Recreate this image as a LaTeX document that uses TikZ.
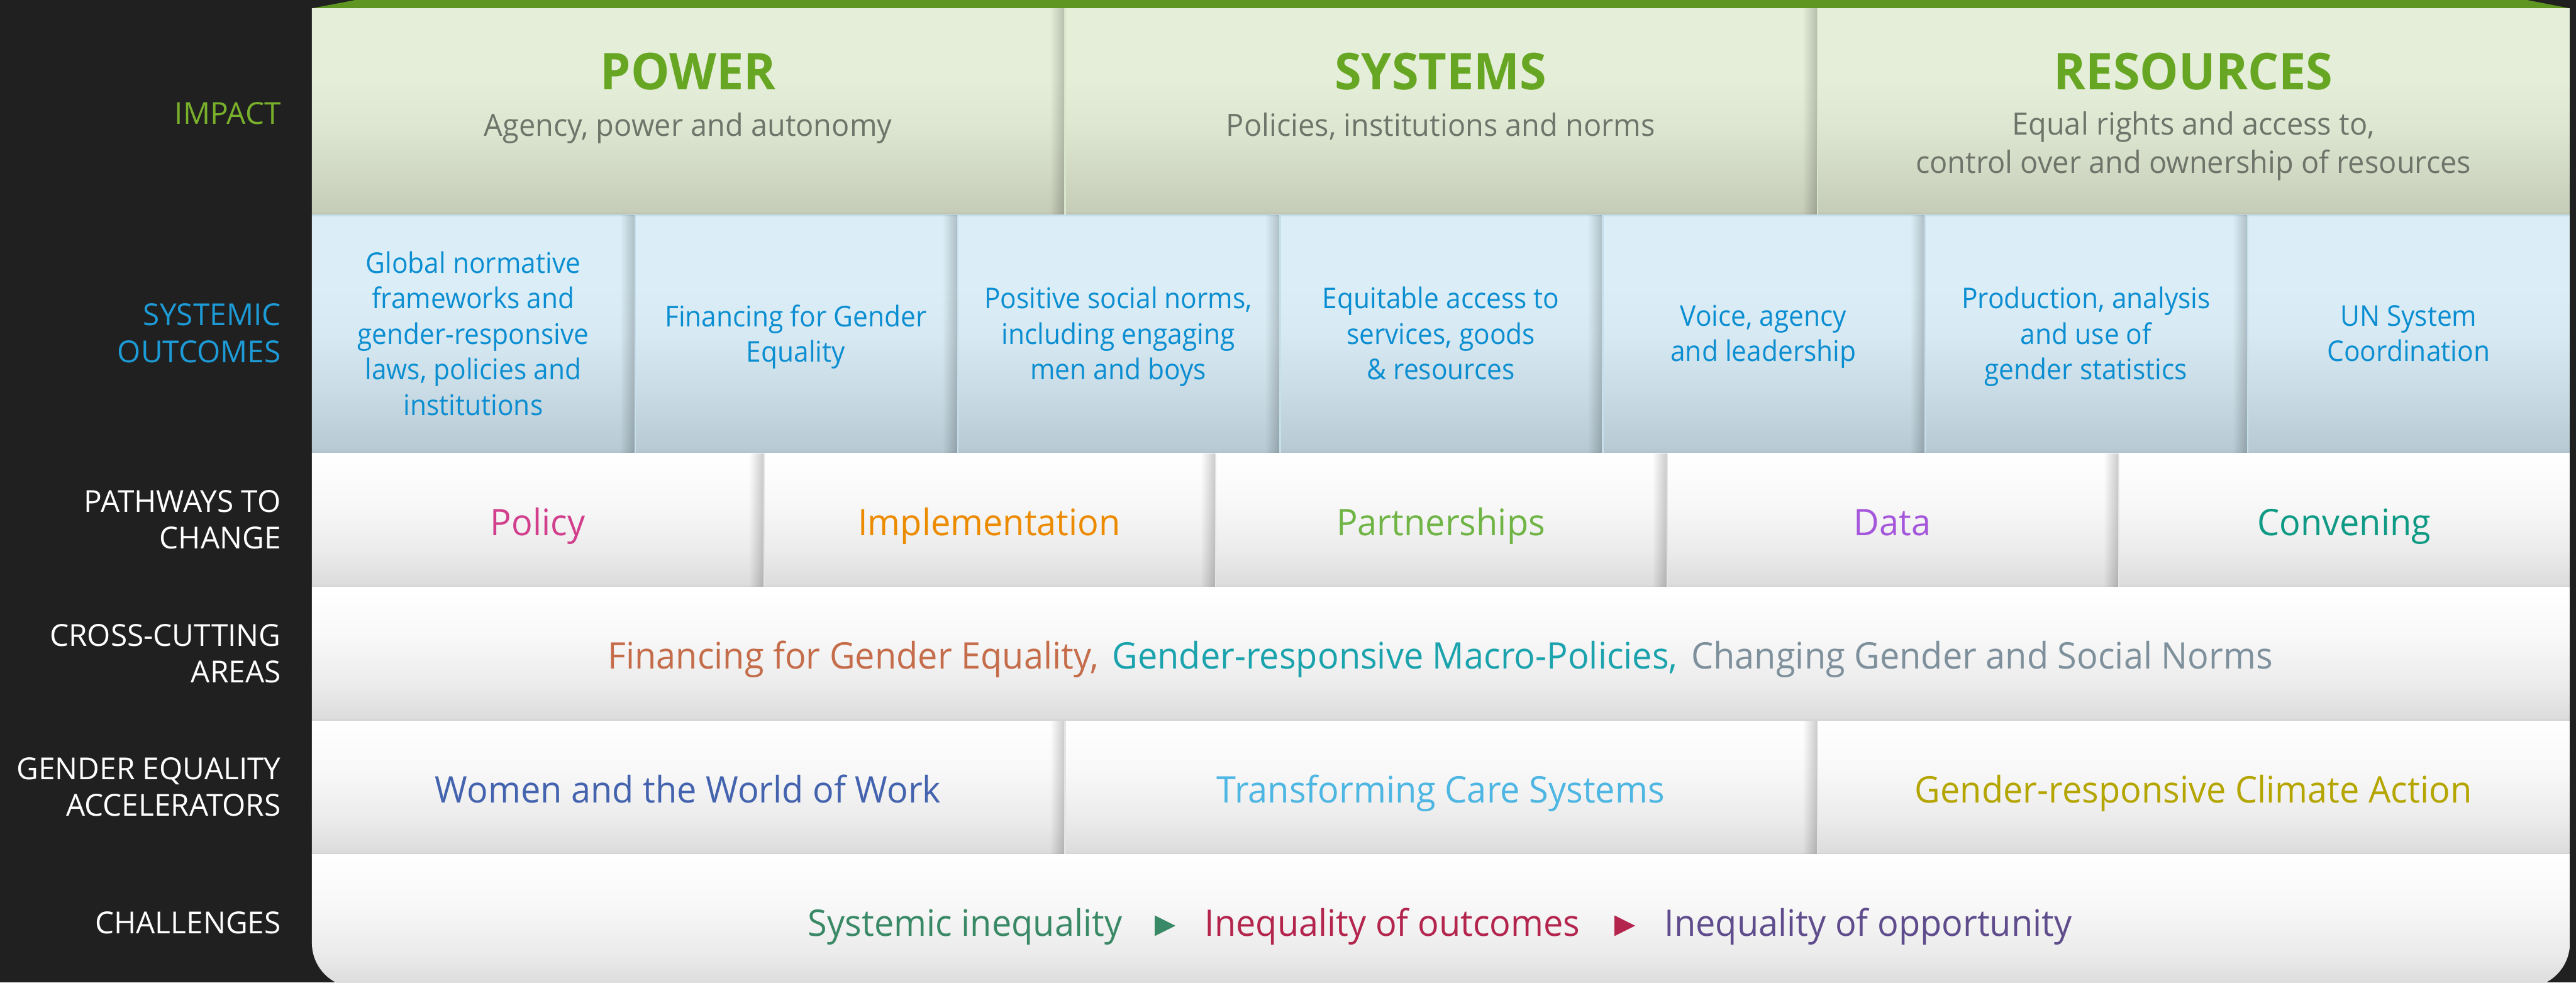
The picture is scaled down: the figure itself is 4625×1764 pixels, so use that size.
\documentclass[tikz,border=0pt]{standalone}
\usepackage{fontspec}
\setmainfont{Open Sans}[FakeStretch=0.96]
\newfontfamily\labelfont{Open Sans}[FakeStretch=0.99]
\newfontfamily\outcomefont{Open Sans}[FakeStretch=0.935]
\usetikzlibrary{fadings}

% palette
\definecolor{bgdark}{HTML}{202020}
\definecolor{topbar}{HTML}{5F9621}
\definecolor{impgreen}{HTML}{67A622}
\definecolor{implabel}{HTML}{79B02B}
\definecolor{subgrey}{HTML}{6E7469}
\definecolor{sysblue}{HTML}{0B8ED1}
\definecolor{syslabel}{HTML}{1D9BD7}
\definecolor{cpolicy}{HTML}{D23F8D}
\definecolor{cimpl}{HTML}{EC8B00}
\definecolor{cpart}{HTML}{6FB445}
\definecolor{cdata}{HTML}{A557DB}
\definecolor{cconv}{HTML}{0E9A84}
\definecolor{cfin}{HTML}{C56C4A}
\definecolor{cmacro}{HTML}{1BA3AD}
\definecolor{cnorms}{HTML}{7E909C}
\definecolor{cwork}{HTML}{4463AE}
\definecolor{ccare}{HTML}{4DB6E2}
\definecolor{cclim}{HTML}{B5A500}
\definecolor{chgreen}{HTML}{3A8966}
\definecolor{chred}{HTML}{B4254E}
\definecolor{chpurple}{HTML}{5F4C8C}

% row gradients
\definecolor{imA}{HTML}{B8BDAA}\definecolor{imB}{HTML}{C5CCB7}
\definecolor{imC}{HTML}{D2DAC5}\definecolor{imD}{HTML}{DDE6D1}
\definecolor{imE}{HTML}{E4EED8}
\definecolor{syA}{HTML}{AFC2CC}\definecolor{syB}{HTML}{B8CBD5}
\definecolor{syC}{HTML}{C9DBE4}\definecolor{syD}{HTML}{D7E9F2}
\definecolor{syE}{HTML}{DBEEF7}
\definecolor{whA}{HTML}{D0D0D0}\definecolor{whB}{HTML}{DCDCDC}
\definecolor{whC}{HTML}{EBEBEB}\definecolor{whD}{HTML}{F8F8F8}
\definecolor{whE}{HTML}{FFFFFF}
\definecolor{sysline}{HTML}{C6DFEB}
\definecolor{impline}{HTML}{D8E4CC}
\definecolor{whline}{HTML}{E4E4E4}

\pgfdeclareverticalshading{impactsh}{100bp}{color(0bp)=(imA); color(25bp)=(imA);
  color(25.8bp)=(imB); color(36bp)=(imC); color(46bp)=(imD); color(58bp)=(imE); color(100bp)=(imE)}
\pgfdeclareverticalshading{systemsh}{100bp}{color(0bp)=(syA); color(25bp)=(syA);
  color(26bp)=(syB); color(38bp)=(syC); color(50bp)=(syD); color(60bp)=(syE); color(100bp)=(syE)}
\pgfdeclareverticalshading{whitesh}{100bp}{color(0bp)=(whA); color(25bp)=(whA);
  color(26bp)=(whB); color(38bp)=(whC); color(56bp)=(whD); color(75bp)=(whE); color(100bp)=(whE)}

\tikzfading[name=edgeshadow, left color=transparent!100, right color=transparent!0]

% soft shadow on the right edge of every cell but the last one in a row
\newcommand\colshadows[4]{%
  \pgfmathtruncatemacro\nsep{#3-1}%
  \foreach \k in {1,...,\nsep}{%
    \pgfmathsetmacro\xx{560+4054*(\k/#3)}
    \fill[black, opacity=0.2, path fading=edgeshadow] (\xx-26,#1) rectangle (\xx,#2);
    \draw[#4, line width=0.25mm] (\xx+1,#1) -- (\xx+1,#2);
  }}

\tikzset{
  rowlabel/.style={anchor=center, align=right, inner sep=0pt, text=white,
    font=\labelfont\fontsize{15.5}{18.78}\selectfont,
    execute at begin node=\strut, execute at end node=\strut},
  pillar/.style={anchor=base, inner sep=0pt, text=impgreen,
    font=\bfseries\fontsize{25.9}{31}\selectfont},
  pillarsub/.style={anchor=center, align=center, inner sep=0pt, text=subgrey,
    font=\fontsize{15.7}{19.6}\selectfont,
    execute at begin node=\strut, execute at end node=\strut},
  outcome/.style={anchor=center, align=center, inner sep=0pt, text=sysblue,
    font=\outcomefont\fontsize{14.6}{18.14}\selectfont,
    execute at begin node=\strut, execute at end node=\strut},
  band/.style={anchor=base, inner sep=0pt, font=\fontsize{18.7}{22.4}\selectfont},
}

\begin{document}
\begin{tikzpicture}[x=0.1mm, y=-0.1mm]
\useasboundingbox (0,0) rectangle (4625,1764);
\fill[bgdark] (0,0) rectangle (4625,1764);

% green band across the top of the panel
\fill[topbar] (560,15) -- (638,0) -- (4537,0) -- (4614,15) -- cycle;

\begin{scope}
  \clip[rounded corners=8mm] (560,-300) rectangle (4614,1773);
  % impact row
  \shade[shading=impactsh] (560,15) rectangle (4614,386);
  \colshadows{15}{386}{3}{impline}
  % systemic outcomes row
  \shade[shading=systemsh] (560,386) rectangle (4614,814);
  \draw[sysline, line width=0.3mm] (560,387) -- (4614,387);
  \colshadows{386}{814}{7}{sysline}
  % pathways to change
  \shade[shading=whitesh] (560,814) rectangle (4614,1054);
  \colshadows{814}{1054}{5}{whline}
  % cross-cutting areas
  \shade[shading=whitesh] (560,1054) rectangle (4614,1294);
  % accelerators
  \shade[shading=whitesh] (560,1294) rectangle (4614,1534);
  \colshadows{1294}{1534}{3}{whline}
  % challenges
  \shade[shading=whitesh] (560,1534) rectangle (4614,1773);
\end{scope}

% row labels
\node[rowlabel, anchor=east, text=implabel] (lImpact) at (505,209.8) {IMPACT};
\node[rowlabel, anchor=east, text=syslabel] (lOutcomes) at (505,607.8) {SYSTEMIC\\OUTCOMES};
\node[rowlabel, anchor=east] (lPathways) at (505,942.8) {PATHWAYS TO\\CHANGE};
\node[rowlabel, anchor=east] (lCross) at (505,1182.8) {CROSS-CUTTING\\AREAS};
\node[rowlabel, anchor=east] (lAccel) at (505,1422.3) {GENDER EQUALITY\\ACCELERATORS};
\node[rowlabel, anchor=east] (lChall) at (505,1662.8) {CHALLENGES};

% impact
\node[pillar] (power) at (1235.3,161) {POWER};
\node[pillar] (systems) at (2586.7,161) {SYSTEMS};
\node[pillar] (resources) at (3938,161) {RESOURCES};
\node[pillarsub] (powerSub) at (1235.3,230.5) {Agency, power and autonomy};
\node[pillarsub] (systemsSub) at (2586.7,230.5) {Policies, institutions and norms};
\node[pillarsub] (resourcesSub) at (3938,266.5) {Equal rights and access to,\\control over and ownership of resources};

% systemic outcomes
\node[outcome] (o1) at (849.6,608) {Global normative\\frameworks and\\gender-responsive\\laws, policies and\\institutions};
\node[outcome] (o2) at (1428.7,608) {Financing for Gender\\Equality};
\node[outcome] (o3) at (2007.9,608) {Positive social norms,\\including engaging\\men and boys};
\node[outcome] (o4) at (2587,608) {Equitable access to\\services, goods\\\& resources};
\node[outcome] (o5) at (3166.1,608) {Voice, agency\\and leadership};
\node[outcome] (o6) at (3745.3,608) {Production, analysis\\and use of\\gender statistics};
\node[outcome] (o7) at (4324.4,608) {UN System\\Coordination};

% pathways to change
\node[band, text=cpolicy] (pPolicy) at (965.4,961) {Policy};
\node[band, text=cimpl] (pImpl) at (1776.2,961) {Implementation};
\node[band, text=cpart] (pPart) at (2587,961) {Partnerships};
\node[band, text=cdata] (pData) at (3397.8,961) {Data};
\node[band, text=cconv] (pConv) at (4208.6,961) {Convening};

% cross-cutting areas
\node[band] (cross) at (2586,1201) {\textcolor{cfin}{Financing for Gender Equality,}\hspace{7pt}%
  \textcolor{cmacro}{Gender-responsive Macro-Policies,}\hspace{7pt}%
  \textcolor{cnorms}{Changing Gender and Social Norms}};

% accelerators
\node[band, text=cwork] (aWork) at (1235.3,1441) {Women and the World of Work};
\node[band, text=ccare] (aCare) at (2586.7,1441) {Transforming Care Systems};
\node[band, text=cclim] (aClim) at (3938,1441) {Gender-responsive Climate Action};

% challenges
\node[band, text=chred] (chOut) at (2500,1681) {Inequality of outcomes};
\path (chOut.base west) ++(-89,-19) coordinate (tri1);
\fill[chgreen] (tri1) ++(0,-18.5) -- ++(37,18.5) -- ++(-37,18.5) -- cycle;
\path (tri1) ++(-58,19) node[band, anchor=base east, text=chgreen] (chSys) {Systemic inequality};
\path (chOut.base east) ++(61,-19) coordinate (tri2);
\fill[chred] (tri2) ++(0,-18.5) -- ++(37,18.5) -- ++(-37,18.5) -- cycle;
\path (tri2) ++(89,19) node[band, anchor=base west, text=chpurple] (chOpp) {Inequality of opportunity};
\end{tikzpicture}
\end{document}
